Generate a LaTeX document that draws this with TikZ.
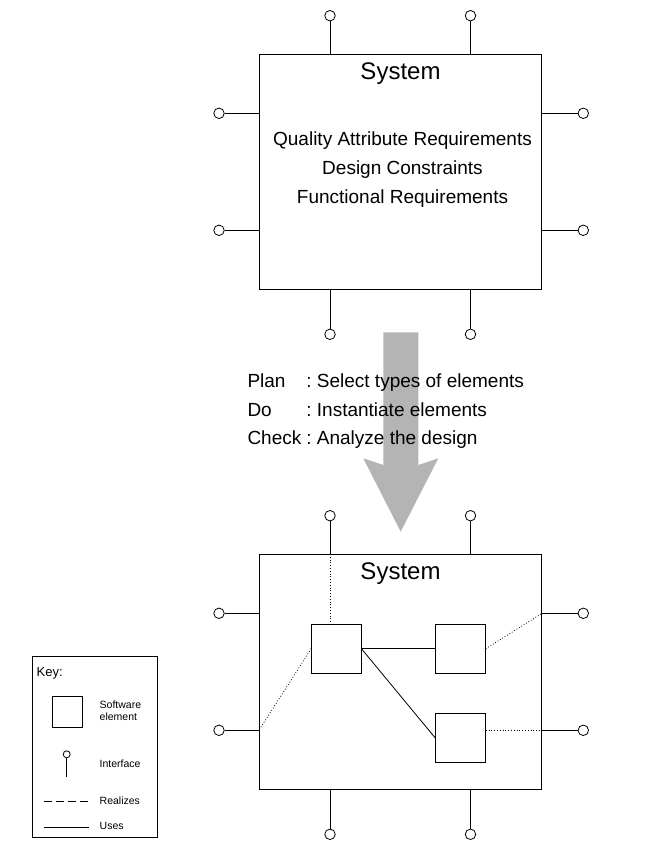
\documentclass[tikz,border=0pt]{standalone}
\usepackage{fontspec}
\setmainfont{Liberation Sans}
\usetikzlibrary{positioning}

\definecolor{arrowgray}{RGB}{180,180,180}

\tikzset{
  sysbox/.style={draw, line width=0.8pt, minimum width=282.4pt, minimum height=234.7pt, inner sep=0pt},
  elem/.style={draw, line width=0.8pt, minimum width=49.5pt, minimum height=49.3pt, inner sep=0pt},
  iface/.style={draw, circle, line width=0.8pt, minimum size=10.5pt, inner sep=0pt, fill=white},
  stem/.style={line width=0.8pt},
  uses/.style={line width=0.8pt},
  realizes/.style={line width=0.8pt, dotted},
  titletext/.style={font=\fontsize{24}{29}\selectfont},
  bodytext/.style={font=\fontsize{19}{28.8}\selectfont},
  keytext/.style={font=\fontsize{10.5}{12.7}\selectfont, anchor=west, align=left, inner sep=0pt},
}

\begin{document}
\begin{tikzpicture}[x=1pt, y=-1pt]
  \useasboundingbox (0,0) rectangle (653,865);

  % big arrow between the two views
  \fill[arrowgray] (383.3,332.3) -- (418.3,332.3) -- (418.3,465) -- (438.3,458.3)
    -- (400.7,531.7) -- (363.3,458.3) -- (383.3,465) -- cycle;

  % the two systems with their interfaces
  \foreach \s/\dy in {top/0, bot/500} {
    \node[sysbox] (\s) at (400.5,171.7+\dy) {};
    \node[titletext] (\s-title) at (400.5,73.5+\dy) {System};

    \node[iface] (\s-n1) at (330,15.7+\dy) {};
    \node[iface] (\s-n2) at (470.5,15.7+\dy) {};
    \node[iface] (\s-s1) at (330,334.3+\dy) {};
    \node[iface] (\s-s2) at (470.5,334.3+\dy) {};
    \node[iface] (\s-w1) at (219,113.3+\dy) {};
    \node[iface] (\s-w2) at (219,230.3+\dy) {};
    \node[iface] (\s-e1) at (583.3,113.3+\dy) {};
    \node[iface] (\s-e2) at (583.3,230.3+\dy) {};

    \draw[stem] (\s-n1) -- (\s-n1 |- \s.north);
    \draw[stem] (\s-n2) -- (\s-n2 |- \s.north);
    \draw[stem] (\s-s1) -- (\s-s1 |- \s.south);
    \draw[stem] (\s-s2) -- (\s-s2 |- \s.south);
    \draw[stem] (\s-w1) -- (\s-w1 -| \s.west);
    \draw[stem] (\s-w2) -- (\s-w2 -| \s.west);
    \draw[stem] (\s-e1) -- (\s-e1 -| \s.east);
    \draw[stem] (\s-e2) -- (\s-e2 -| \s.east);
  }

  % requirements
  \node[bodytext, align=center] (reqs) at (402.5,169.5) {Quality Attribute Requirements\\Design Constraints\\Functional Requirements};

  % plan / do / check
  \node[bodytext, anchor=west, inner sep=0pt] (pdca) at (247.3,410.3) {%
    \begin{tabular}{@{}l@{\hspace{5pt}}l@{}}
      Plan & :~Select types of elements\\
      Do & :~Instantiate elements\\
      Check & :~Analyze the design
    \end{tabular}};

  % elements inside the designed system
  \node[elem] (elA) at (336.3,648.7) {};
  \node[elem, right=74pt of elA] (elB) {};
  \node[elem, below=39.4pt of elB] (elC) {};

  \draw[uses] (elA) -- (elB);
  \draw[uses] (elA.east) -- (elC.west);

  \draw[realizes] (bot-n1 |- bot.north) -- (bot-n1 |- elA.north);
  \draw[realizes] (elA.west) -- (bot-w2 -| bot.west);
  \draw[realizes] (elB.east) -- (bot-e1 -| bot.east);
  \draw[realizes] (elC.east |- bot-e2) -- (bot-e2 -| bot.east);

  % key
  \node[draw, line width=0.8pt, minimum width=124.6pt, minimum height=181.4pt, inner sep=0pt] (key) at (95,747) {};
  \node[anchor=west, inner sep=0pt, font=\fontsize{13}{15}\selectfont] (key-title) at (36.5,673.3) {Key:};

  \node[draw, line width=0.8pt, minimum size=30.7pt, inner sep=0pt] (key-elem) at (67.3,711.7) {};
  \node[keytext] (key-elem-txt) at (99.5,710.7) {Software\\element};

  \node[draw, circle, line width=0.8pt, minimum size=7pt, inner sep=0pt] (key-if) at (66.7,754.3) {};
  \coordinate (key-if-end) at (66.7,777);
  \draw[stem] (key-if) -- (key-if-end);
  \node[keytext] (key-if-txt) at (99.5,763.3) {Interface};

  \coordinate (key-r1) at (44,801.7);
  \coordinate (key-r2) at (89.3,801.7);
  \draw[line width=0.8pt, dash pattern=on 8pt off 4pt] (key-r1) -- (key-r2);
  \node[keytext] (key-r-txt) at (99.5,801.2) {Realizes};

  \coordinate (key-u1) at (44,827.3);
  \coordinate (key-u2) at (89.3,827.3);
  \draw[uses] (key-u1) -- (key-u2);
  \node[keytext] (key-u-txt) at (99.5,825.5) {Uses};
\end{tikzpicture}
\end{document}
